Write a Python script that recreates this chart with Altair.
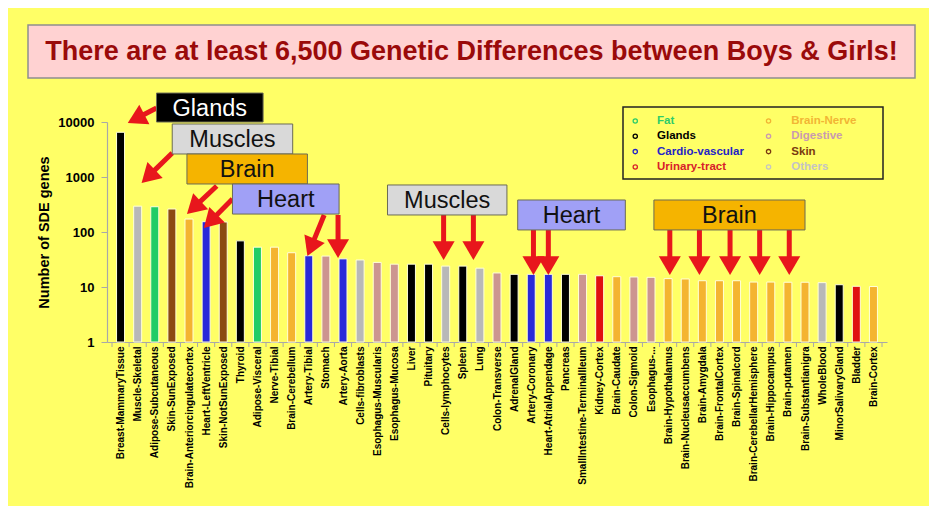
import json
import math
import altair as alt
import pandas as pd

# ---------------- data ----------------
tissues = ["Breast-MammaryTissue", "Muscle-Skeletal", "Adipose-Subcutaneous", "Skin-SunExposed",
           "Brain-Anteriorcingulatecortex", "Heart-LeftVentricle", "Skin-NotSunExposed", "Thyroid",
           "Adipose-Visceral", "Nerve-Tibial", "Brain-Cerebellum", "Artery-Tibial", "Stomach",
           "Artery-Aorta", "Cells-fibroblasts", "Esophagus-Muscularis", "Esophagus-Mucosa", "Liver",
           "Pituitary", "Cells-lymphocytes", "Spleen", "Lung", "Colon-Transverse", "AdrenalGland",
           "Artery-Coronary", "Heart-AtrialAppendage", "Pancreas", "SmallIntestine-TerminalIleum",
           "Kidney-Cortex", "Brain-Caudate", "Colon-Sigmoid", "Esophagus-...", "Brain-Hypothalamus",
           "Brain-Nucleusaccumbens", "Brain-Amygdala", "Brain-FrontalCortex", "Brain-Spinalcord",
           "Brain-CerebellarHemisphere", "Brain-Hippocampus", "Brain-putamen",
           "Brain-Substantianigra", "WholeBlood", "MinorSalivaryGland", "Bladder", "Brain-Cortex"]

groups = ["Glands", "Others", "Fat", "Skin", "Brain-Nerve", "Cardio-vascular", "Skin", "Glands",
          "Fat", "Brain-Nerve", "Brain-Nerve", "Cardio-vascular", "Digestive", "Cardio-vascular",
          "Others", "Digestive", "Digestive", "Glands", "Glands", "Others", "Glands", "Others",
          "Digestive", "Glands", "Cardio-vascular", "Cardio-vascular", "Glands", "Digestive",
          "Urinary-tract", "Brain-Nerve", "Digestive", "Digestive", "Brain-Nerve", "Brain-Nerve",
          "Brain-Nerve", "Brain-Nerve", "Brain-Nerve", "Brain-Nerve", "Brain-Nerve", "Brain-Nerve",
          "Brain-Nerve", "Others", "Glands", "Urinary-tract", "Brain-Nerve"]

sde_genes = [6500, 295, 288, 262, 172, 154, 152, 69, 53, 53, 42, 37, 36.5, 32.5, 31, 28, 26, 26,
             26, 24, 24, 22, 18, 17, 17, 17, 17, 17, 16, 15.4, 15.2, 15, 14.2, 14, 13, 13, 13,
             12.3, 12.3, 12.2, 12.2, 12, 11, 10.3, 10.2]

legend_labels = ["Fat", "Glands", "Cardio-vascular", "Urinary-tract",
                 "Brain-Nerve", "Digestive", "Skin", "Others"]
legend_colors = ["#2ECC6A", "#000000", "#2323C8", "#D8202A",
                 "#F2B534", "#C99AB0", "#7A3A10", "#C4C4C4"]
bar_colors = ["#22CC66", "#000000", "#2A2AD8", "#E01010",
              "#F4B430", "#CC9590", "#8B4A12", "#B8B8B8"]

title_text = "There are at least 6,500 Genetic Differences between Boys & Girls!"

# annotation boxes: label, x-from (bar index), x-to, top value, bottom value, fill, text colour
box_labels = ["Glands", "Muscles", "Brain", "Heart", "Muscles", "Heart", "Brain"]
box_x0 = [2.1, 3.02, 3.88, 6.54, 15.6, 23.21, 31.17]
box_x1 = [8.33, 10.06, 10.92, 12.77, 22.58, 29.5, 40.0]
box_top = [33600, 9200, 2620, 746, 716, 382, 382]
box_bottom = [10000, 2620, 746, 212, 204, 109, 109]
box_fill = ["#000000", "#D9D9D9", "#F5B400", "#A0A0F6", "#D9D9D9", "#A0A0F6", "#F5B400"]
box_text = ["#FFFFFF", "#111111", "#111111", "#111111", "#111111", "#111111", "#111111"]

# arrows: tail (bar index, value) -> tip (bar index, value)
arrow_x0 = [2.10, 3.02, 5.62, 6.54, 11.9, 12.71, 18.88, 20.62, 24.13, 25.0,
            32.1, 33.83, 35.62, 37.35, 39.08]
arrow_y0 = [17980, 2730, 686, 398, 204, 204, 204, 204, 109, 109, 109, 109, 109, 109, 109]
arrow_x1 = [0.42, 1.23, 3.88, 4.87, 10.92, 12.71, 18.88, 20.62, 24.13, 25.0,
            32.1, 33.83, 35.62, 37.35, 39.08]
arrow_y1 = [9560, 778, 212, 118, 36.6, 33.7, 31, 31, 16.5, 16.5, 16.5, 16.5, 16.5, 16.5, 16.5]

# ---------------- layout ----------------
W, H = 780, 220
N = len(tissues)
FONT = "Liberation Sans"
RED = "#E8161C"
PX_PER_IDX = W / N
PX_PER_DEC = H / 4
HEAD_R = 11
HEAD_LEN = 1.7 * HEAD_R

df = pd.DataFrame({"x": list(range(N)), "y": sde_genes, "tissue": tissues, "group": groups})

xscale = alt.Scale(domain=[-0.5, N - 0.5], nice=False, zero=False)
yscale = alt.Scale(type="log", domain=[1, 10000], nice=False)

xaxis = alt.Axis(values=list(range(N)), labelExpr=f"{json.dumps(tissues)}[datum.value]",
                 labelAngle=270, ticks=False, grid=False, title=None, labelOverlap=False,
                 labelFlush=False, labelFont=FONT, labelFontSize=10,
                 labelFontWeight="bold", labelColor="#000000", labelPadding=4,
                 domainColor="#A8A8A8", domainWidth=1.2)
yaxis = alt.Axis(values=[1, 10, 100, 1000, 10000], format="d", grid=False,
                 title="Number of SDE genes", titleFont=FONT, titleFontSize=14.5,
                 titleFontWeight="bold", titleColor="#000000", titlePadding=6,
                 labelFont=FONT, labelFontSize=13, labelFontWeight="bold", labelColor="#000000",
                 labelPadding=7, tickColor="#A8A8A8", tickSize=6, domainColor="#A8A8A8",
                 domainWidth=1.2)


def X(field):
    return alt.X(field, scale=xscale, axis=xaxis)


def Y(field):
    return alt.Y(field, scale=yscale, axis=yaxis)


bars = alt.Chart(df).mark_bar(size=8, stroke="#FFFFD8", strokeWidth=1).encode(
    x=X("x:Q"),
    y=Y("y:Q"),
    y2=alt.datum(1),
    color=alt.Color("group:N", scale=alt.Scale(domain=legend_labels, range=bar_colors), legend=None),
)

tick_df = pd.DataFrame({"x": [i - 0.5 for i in range(N + 1)]})
xticks = alt.Chart(tick_df).mark_rule(color="#A8A8A8", strokeWidth=1).encode(
    x=X("x:Q"),
    y=alt.value(H),
    y2=alt.value(H + 5),
)

# arrows
ar = []
for x0, y0, x1, y1 in zip(arrow_x0, arrow_y0, arrow_x1, arrow_y1):
    l0, l1 = math.log10(y0), math.log10(y1)
    dx = (x1 - x0) * PX_PER_IDX
    dy = -(l1 - l0) * PX_PER_DEC
    L = math.hypot(dx, dy)
    t = 1 - (HEAD_LEN * 0.7) / L
    xe = x0 + t * (x1 - x0)
    ye = 10 ** (l0 + t * (l1 - l0))
    ang = (math.degrees(math.atan2(-dx, dy)) + 360) % 360
    ar.append({"x": x0, "y": y0, "xe": xe, "ye": ye, "xt": x1, "yt": y1, "ang": abs(ang)})
adf = pd.DataFrame(ar)

shafts = alt.Chart(adf).mark_rule(color=RED, strokeWidth=5).encode(
    x=X("x:Q"), y=Y("y:Q"), x2="xe:Q", y2="ye:Q",
)
heads = alt.Chart(adf).mark_point(shape="M0,0L-1,-1.7L1,-1.7Z", filled=True, size=(2 * HEAD_R) ** 2,
                                  color=RED, opacity=1, strokeWidth=0).encode(
    x=X("xt:Q"), y=Y("yt:Q"),
    angle=alt.Angle("ang:Q", scale=None),
)

# boxes
bdf = pd.DataFrame({"label": box_labels, "x": box_x0, "x2": box_x1, "y": box_top,
                    "y2": box_bottom, "fill": box_fill, "tc": box_text})
bdf["xm"] = (bdf["x"] + bdf["x2"]) / 2
bdf["ym"] = (bdf["y"] * bdf["y2"]) ** 0.5
boxes = alt.Chart(bdf).mark_rect(stroke="#6B6B55", strokeWidth=1).encode(
    x=X("x:Q"), x2="x2:Q", y=Y("y:Q"), y2="y2:Q",
    fill=alt.Fill("fill:N", scale=None),
)
box_txt = alt.Chart(bdf).mark_text(font=FONT, fontSize=23.5, baseline="middle", dy=1).encode(
    x=X("xm:Q"), y=Y("ym:Q"),
    text="label:N",
    color=alt.Color("tc:N", scale=None),
)

# title box (page decoration, outside the plot area)
tdf = pd.DataFrame({"t": [title_text]})
title_box = alt.Chart(tdf).mark_rect(fill="#FFD2D2", stroke="#8E8E8E", strokeWidth=1.5).encode(
    x=alt.value(-79), x2=alt.value(808), y=alt.value(-97), y2=alt.value(-44),
)
title_txt = alt.Chart(tdf).mark_text(font=FONT, fontSize=27, fontWeight="bold", color="#9A0A0A",
                                     baseline="middle").encode(
    x=alt.value(364.5), y=alt.value(-70), text="t:N",
)

# legend (box drawn in pixels, entries placed on the chart's own scales)
legend_box = alt.Chart(pd.DataFrame({"a": [0]})).mark_rect(fill="#FFFF66", stroke="#222222",
                                                           strokeWidth=1.5).encode(
    x=alt.value(516), x2=alt.value(776), y=alt.value(-15), y2=alt.value(57),
)
ldf = pd.DataFrame({"label": legend_labels, "color": legend_colors, "i": list(range(8))})
ldf["col"] = ldf["i"] // 4
ldf["row"] = ldf["i"] % 4
ldf["cx"] = 30.08 + ldf["col"] * 7.79
ldf["tx"] = 31.35 + ldf["col"] * 7.85
ldf["cy"] = 10 ** (4.018 - ldf["row"] * 15.3 / PX_PER_DEC)

leg_pts = alt.Chart(ldf).mark_point(shape="circle", size=18, strokeWidth=1.3, filled=False,
                                    opacity=1).encode(
    x=X("cx:Q"), y=Y("cy:Q"),
    color=alt.Color("color:N", scale=None),
)
leg_txt = alt.Chart(ldf).mark_text(font=FONT, fontSize=11.5, fontWeight="bold", align="left",
                                   baseline="middle").encode(
    x=X("tx:Q"), y=Y("cy:Q"),
    text="label:N",
    color=alt.Color("color:N", scale=None),
)

chart = alt.layer(
    bars, xticks, title_box, title_txt, legend_box, leg_pts, leg_txt,
    shafts, heads, boxes, box_txt,
).properties(
    width=W, height=H,
    background="#FFFF66",
    padding={"left": 99, "top": 114, "right": 42, "bottom": 164},
    autosize=alt.AutoSizeParams(type="none"),
).configure_view(stroke=None)

chart.save("out.html", embed_options={"renderer": "svg", "actions": False})
